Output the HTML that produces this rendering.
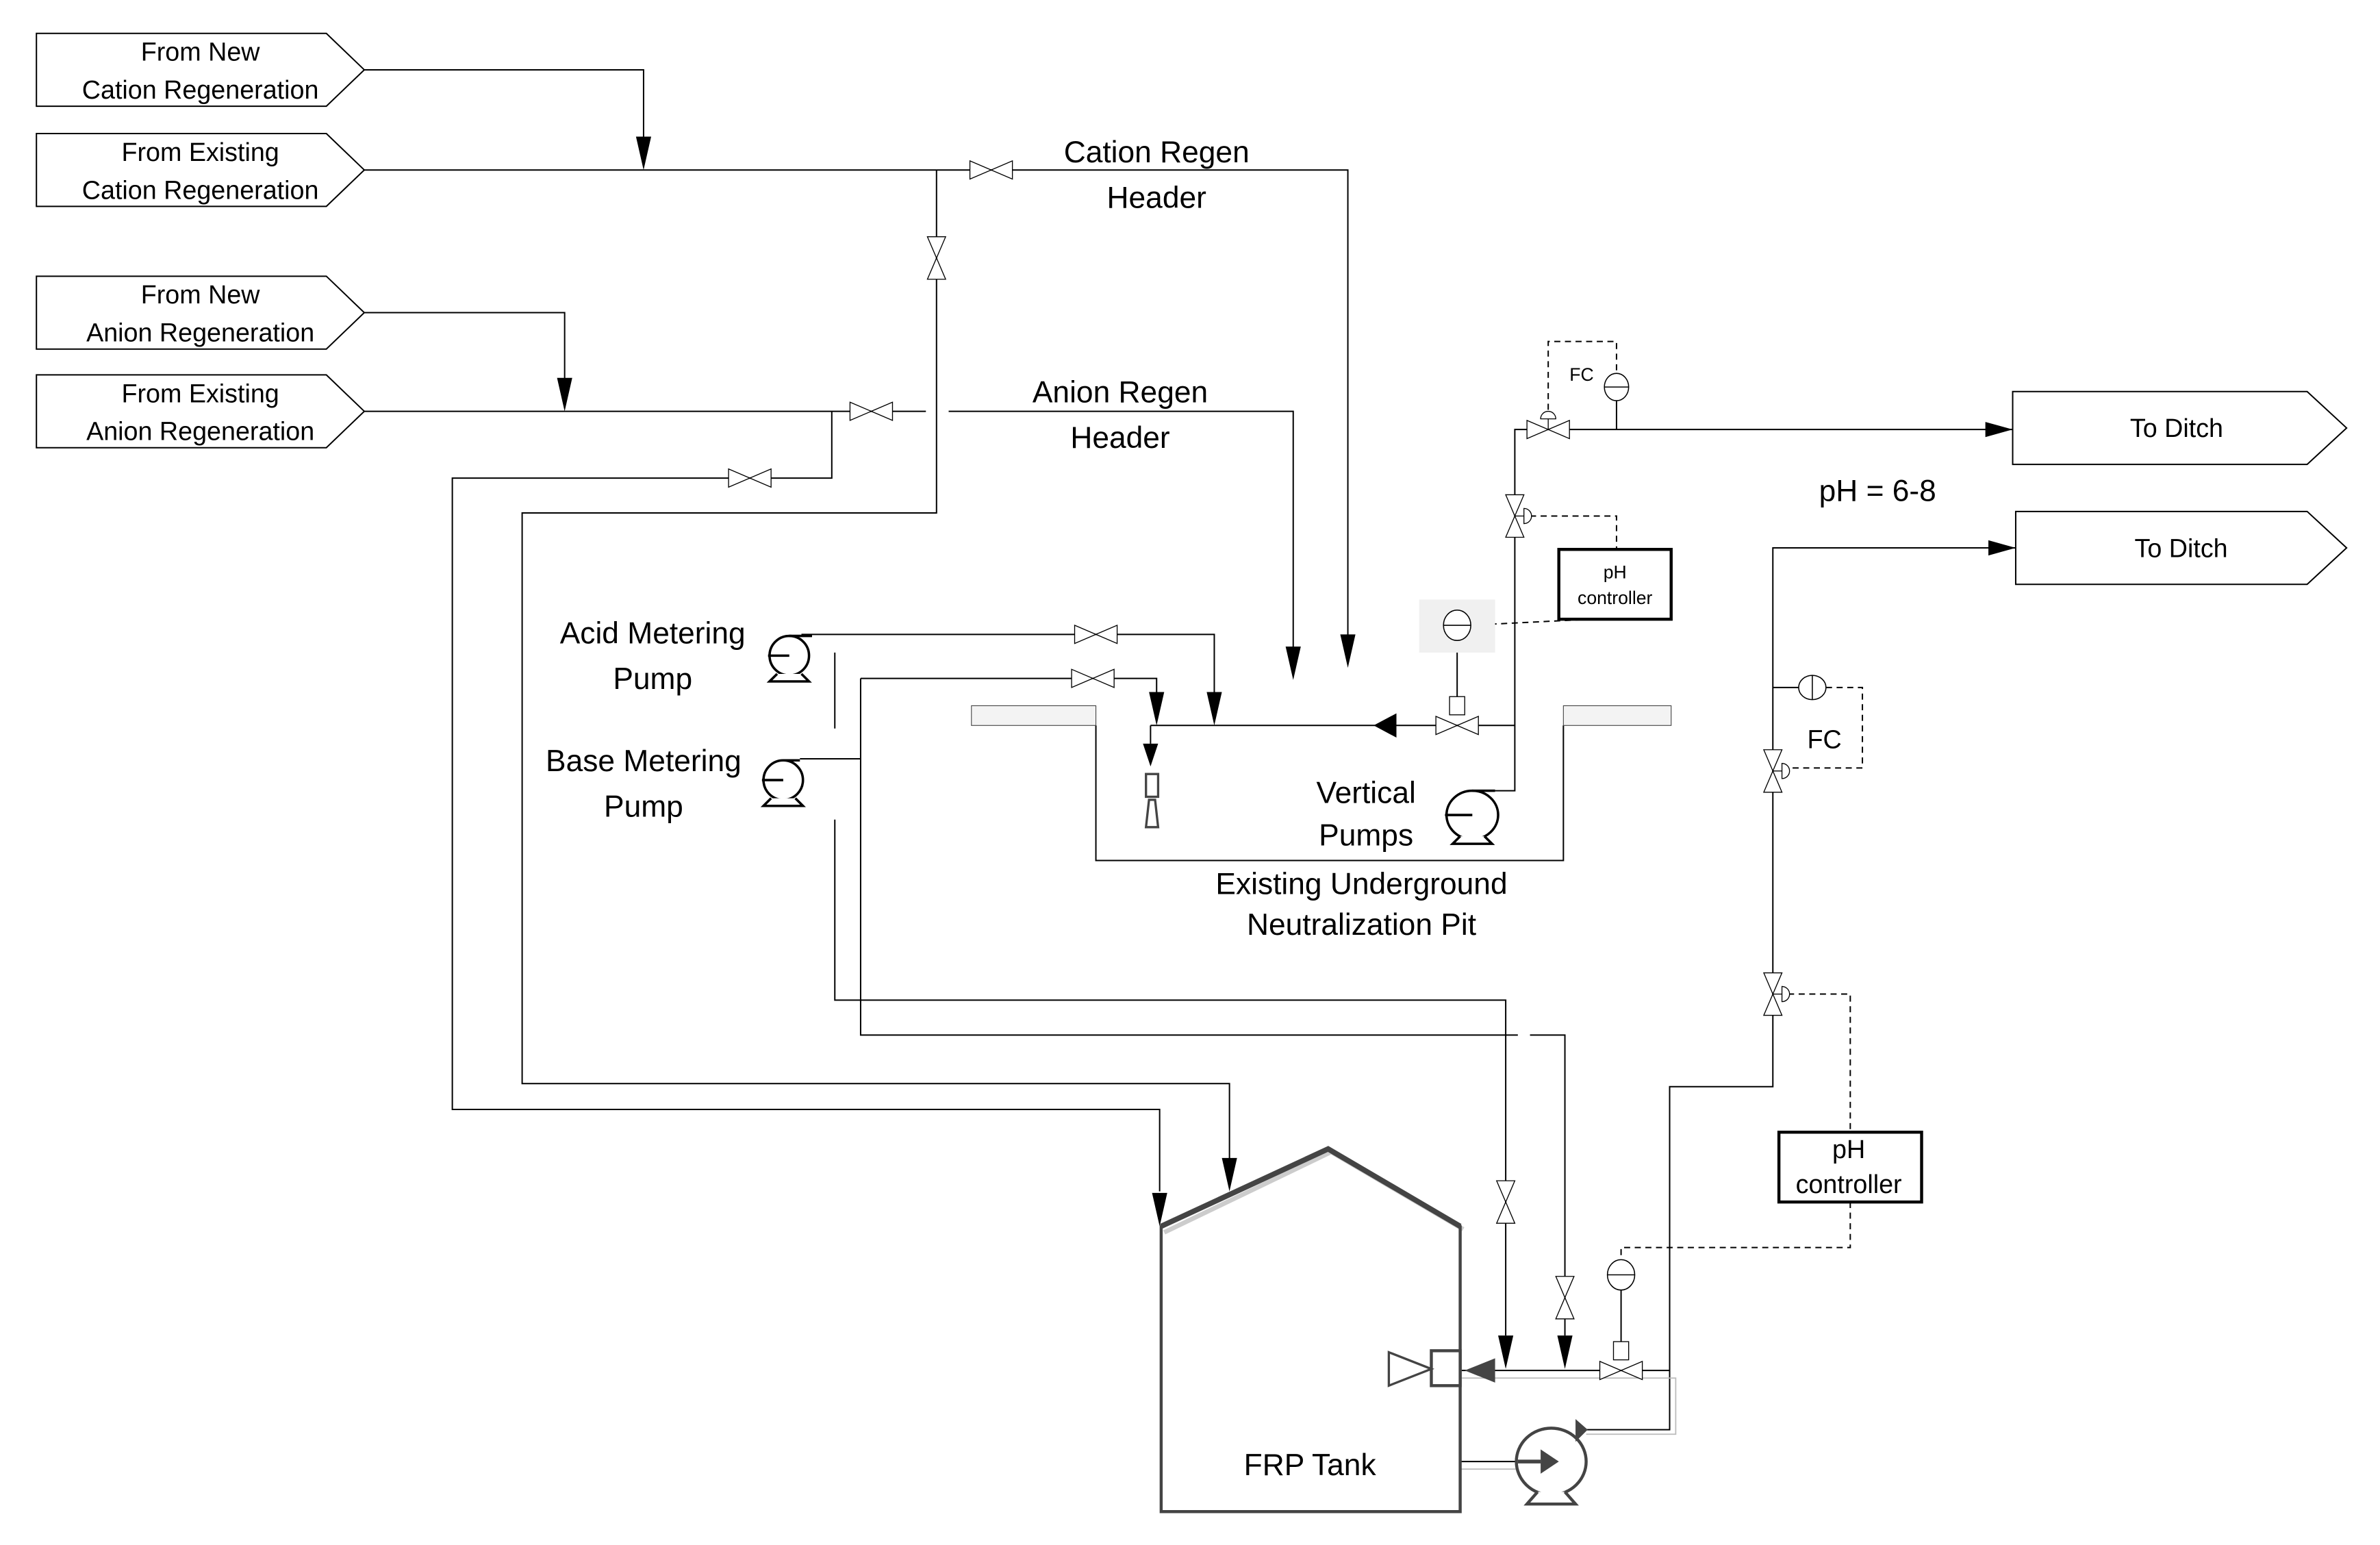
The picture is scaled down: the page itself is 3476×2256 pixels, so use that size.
<!DOCTYPE html>
<html><head><meta charset="utf-8"><style>html,body{margin:0;padding:0;background:#fff}svg{display:block}text{font-family:"Liberation Sans",sans-serif;fill:#000}</style></head>
<body>
<svg width="3476" height="2256" viewBox="0 0 1568 1018" preserveAspectRatio="none" xmlns="http://www.w3.org/2000/svg">
<defs>
<g id="vh"><polygon points="-14,-6 14,6 14,-6 -14,6" fill="#fff" stroke="#000" stroke-width="0.6"/></g>
<g id="vv"><polygon points="-6,-14 6,14 -6,14 6,-14" fill="#fff" stroke="#000" stroke-width="0.6"/></g>
<g id="ad"><polygon points="-5,-22 5,-22 0,0" fill="#000"/></g>
</defs>
<g fill="none" stroke="#000" stroke-width="0.9">
<polygon points="24,22 215,22 240,46 215,70 24,70"/>
<polygon points="24,88 215,88 240,112 215,136 24,136"/>
<polygon points="24,182 215,182 240,206 215,230 24,230"/>
<polygon points="24,247 215,247 240,271 215,295 24,295"/>
<polygon points="1326,258 1520,258 1546,282 1520,306 1326,306"/>
<polygon points="1328,337 1520,337 1546,361 1520,385 1328,385"/>
<polyline points="240,46 424,46 424,100"/>
<polyline points="240,112 888,112 888,420"/>
<polyline points="617,112 617,338 344,338 344,714 810,714 810,770"/>
<polyline points="240,206 372,206 372,250"/>
<polyline points="240,271 610,271"/>
<polyline points="625,271 852,271 852,440"/>
<polyline points="548,271 548,315 298,315 298,731 764,731 764,785"/>
<polyline points="528,418 800,418 800,460"/>
<polyline points="567,447 762,447 762,460"/>
<polyline points="550,430 550,480"/>
<polyline points="550,540 550,659 992,659 992,880"/>
<polyline points="567,447 567,682 1000,682"/>
<polyline points="1008,682 1031,682 1031,880"/>
<polyline points="527,500 567,500"/>
<polyline points="758,478 998,478"/>
<polyline points="758,478 758,490"/>
<polyline points="722,478 722,567 1030,567 1030,478"/>
<polyline points="985,521 998,521 998,283 1326,283"/>
<polyline points="960,420 960,465"/>
<polyline points="1065,263 1065,283"/>
<polyline points="1328,361 1168,361 1168,716 1100,716 1100,942 1045,942"/>
<polyline points="1168,453 1186,453"/>
<polyline points="963,903 1100,903"/>
<polyline points="1068,848 1068,884"/>
<polyline points="962,963 1010,963"/>
</g>
<g fill="none" stroke="#bbb" stroke-width="0.8">
<polyline points="963,908 1104,908 1104,945 1045,945"/>
<polyline points="962,968 1000,968"/>
</g>
<g fill="none" stroke="#000" stroke-width="0.9" stroke-dasharray="4,3">
<polyline points="1020,270 1020,225 1065,225 1065,247"/>
<polyline points="1008,340 1065,340 1065,362"/>
<polyline points="968,412 1048,408"/>
<polyline points="1203,453 1227,453 1227,506 1178,506"/>
<polyline points="1178,655 1219,655 1219,746"/>
<polyline points="1219,792 1219,822 1068,822 1068,832"/>
</g>
<use href="#vh" x="653" y="112"/>
<use href="#vv" x="617" y="170"/>
<use href="#vh" x="574" y="271"/>
<use href="#vh" x="494" y="315"/>
<use href="#vh" x="722" y="418"/>
<use href="#vh" x="720" y="447"/>
<use href="#vh" x="960" y="478"/>
<use href="#vh" x="1020" y="283"/>
<use href="#vv" x="998" y="340"/>
<use href="#vv" x="1168" y="508"/>
<use href="#vv" x="1168" y="655"/>
<use href="#vv" x="992" y="792"/>
<use href="#vv" x="1031" y="855"/>
<use href="#vh" x="1068" y="903"/>
<g fill="#fff" stroke="#000" stroke-width="0.6">
<path d="M1015,276 a5,5 0 0 1 10,0 z"/><line x1="1020" y1="276" x2="1020" y2="283"/>
<path d="M1004,335 a5,5 0 0 1 0,10 z"/><line x1="998" y1="340" x2="1004" y2="340"/>
<path d="M1174,503 a5,5 0 0 1 0,10 z"/><line x1="1168" y1="508" x2="1174" y2="508"/>
<path d="M1174,650 a5,5 0 0 1 0,10 z"/><line x1="1168" y1="655" x2="1174" y2="655"/>
<rect x="955" y="459" width="10" height="12"/>
<rect x="1063" y="884" width="10" height="12"/>
</g>
<rect x="935" y="395" width="50" height="35" fill="#f0f0f0"/>
<g fill="#fff" stroke="#000" stroke-width="0.7">
<ellipse cx="960" cy="412" rx="9" ry="10"/><line x1="951" y1="412" x2="969" y2="412"/>
<ellipse cx="1065" cy="255" rx="8" ry="9"/><line x1="1057" y1="255" x2="1073" y2="255"/>
<ellipse cx="1194" cy="453" rx="9" ry="8"/><line x1="1194" y1="445" x2="1194" y2="461"/>
<ellipse cx="1068" cy="840" rx="9" ry="10"/><line x1="1059" y1="840" x2="1077" y2="840"/>
</g>
<use href="#ad" x="424" y="112"/>
<use href="#ad" x="372" y="271"/>
<use href="#ad" x="888" y="440"/>
<use href="#ad" x="852" y="448"/>
<use href="#ad" x="800" y="478"/>
<use href="#ad" x="762" y="478"/>
<polygon points="753,490 763,490 758,505" fill="#000"/>
<use href="#ad" x="810" y="785"/>
<use href="#ad" x="764" y="808"/>
<use href="#ad" x="992" y="902"/>
<use href="#ad" x="1031" y="902"/>
<polygon points="905,478 920,470 920,486" fill="#000"/>
<polygon points="1326,283 1308,278 1308,288" fill="#000"/>
<polygon points="1328,361 1310,356 1310,366" fill="#000"/>
<polygon points="965,903 985,895 985,911" fill="#444"/>
<rect x="640" y="465" width="82" height="13" fill="#f3f3f3" stroke="#444" stroke-width="0.5"/>
<rect x="1030" y="465" width="71" height="13" fill="#f3f3f3" stroke="#444" stroke-width="0.5"/>
<rect x="755" y="510" width="8" height="15" fill="#fff" stroke="#444" stroke-width="1.5"/>
<polygon points="757,527 761,527 763,545 755,545" fill="#fff" stroke="#444" stroke-width="1.5"/>
<g fill="#fff" stroke="#000" stroke-width="1.6">
<circle cx="520" cy="432" r="13"/><line x1="520" y1="419" x2="535" y2="419"/><line x1="506" y1="432" x2="520" y2="432"/><path d="M512,444 l-5,5 h26 l-5,-5"/>
<circle cx="516" cy="514" r="13"/><line x1="516" y1="501" x2="527" y2="501"/><line x1="502" y1="514" x2="516" y2="514"/><path d="M508,526 l-5,5 h26 l-5,-5"/>
<ellipse cx="970" cy="537" rx="17" ry="16"/><line x1="970" y1="521" x2="985" y2="521"/><line x1="952" y1="537" x2="970" y2="537"/><path d="M962,551 l-5,5 h26 l-5,-5"/>
</g>
<g fill="#fff" stroke="#444" stroke-width="2">
<ellipse cx="1022" cy="963" rx="23" ry="22"/><path d="M1013,983 l-7,8 h32 l-7,-8"/>
</g>
<polygon points="1015,955 1027,963 1015,971" fill="#444"/><line x1="1000" y1="963" x2="1015" y2="963" stroke="#444" stroke-width="2.5"/>
<polygon points="1038,935 1046,942 1038,950" fill="#444"/>
<polyline points="767,812 877,759 964,810" fill="none" stroke="#ccc" stroke-width="3"/>
<polygon points="765,808 875,757 962,808 962,996 765,996" fill="none" stroke="#444" stroke-width="2"/>
<polyline points="765,808 875,757 962,808" fill="none" stroke="#444" stroke-width="3.5"/>
<rect x="943" y="890" width="19" height="23" fill="#fff" stroke="#444" stroke-width="2"/>
<polygon points="915,891 915,913 943,902" fill="#fff" stroke="#444" stroke-width="1.5"/>
<rect x="1027" y="362" width="74" height="46" fill="#fff" stroke="#000" stroke-width="2"/>
<rect x="1172" y="746" width="94" height="46" fill="#fff" stroke="#000" stroke-width="2"/>
<g font-size="17" text-anchor="middle">
<text x="132" y="40">From New</text><text x="132" y="65">Cation Regeneration</text>
<text x="132" y="106">From Existing</text><text x="132" y="131">Cation Regeneration</text>
<text x="132" y="200">From New</text><text x="132" y="225">Anion Regeneration</text>
<text x="132" y="265">From Existing</text><text x="132" y="290">Anion Regeneration</text>
<text x="1434" y="288">To Ditch</text><text x="1437" y="367">To Ditch</text>
<text x="1218" y="763">pH</text><text x="1218" y="786">controller</text>
<text x="1202" y="493">FC</text>
</g>
<g font-size="20" text-anchor="middle">
<text x="762" y="107">Cation Regen</text><text x="762" y="137">Header</text>
<text x="738" y="265">Anion Regen</text><text x="738" y="295">Header</text>
<text x="430" y="424">Acid Metering</text><text x="430" y="454">Pump</text>
<text x="424" y="508">Base Metering</text><text x="424" y="538">Pump</text>
<text x="900" y="529">Vertical</text><text x="900" y="557">Pumps</text>
<text x="897" y="589">Existing Underground</text><text x="897" y="616">Neutralization Pit</text>
<text x="863" y="972">FRP Tank</text>
<text x="1237" y="330">pH = 6-8</text>
</g>
<g font-size="12" text-anchor="middle">
<text x="1064" y="381">pH</text><text x="1064" y="398">controller</text>
<text x="1042" y="251">FC</text>
</g>
</svg>
</body></html>
